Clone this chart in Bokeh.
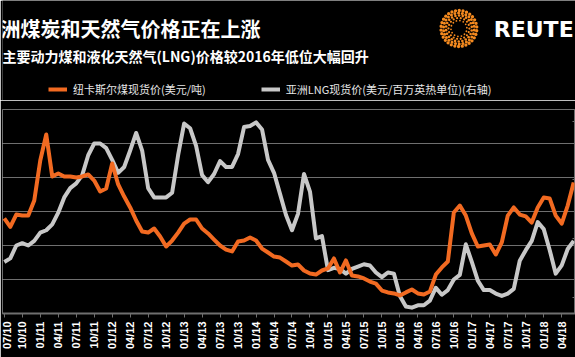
import math
from bokeh.plotting import figure
from bokeh.models import (Range1d, LinearAxis, FixedTicker, CustomJSTickFormatter,
                          Legend, LegendItem, Grid)
from bokeh.layouts import column
from bokeh.embed import file_html
from bokeh.resources import INLINE
from bokeh.core.properties import value
import numpy as np

# ---- data (monthly, Jul 2010 .. Jun 2018) ----
months = list(range(96))
coal_usd_t = [96, 91, 98.2, 97.6, 97.6, 106.5, 130, 145.3, 120.6, 122.4,
              120.6, 120.6, 120, 120.6, 121.8, 118.2, 111.8, 113.5, 128.2, 115.9,
              108.8, 102.4, 94.7, 88.2, 87.6, 90, 85.3, 79.4, 82.9, 87.6,
              92.9, 95.3, 95.3, 90, 87.1, 83.5, 80, 77.6, 76.5, 82.4,
              82.9, 84.7, 82.9, 78.2, 75.9, 73.5, 72.9, 70.6, 68.2, 68.8,
              65.3, 63.5, 62.9, 65.3, 66.5, 72.4, 64.1, 71.2, 62.4, 61.8,
              60.6, 58.8, 57.6, 53.5, 52.4, 51.8, 50.6, 52.4, 54.1, 51.8,
              51.2, 52.9, 62.9, 67.1, 70.6, 99.4, 103.5, 97.6, 87.1, 79.4,
              80, 80.6, 74.7, 81.8, 97.6, 102.4, 98.2, 97.1, 93.5, 102.4,
              108.2, 107.6, 97.6, 92.9, 103.5, 117.1]
lng_usd_mmbtu = [8.0, 8.3, 9.4, 9.6, 9.4, 9.8, 10.5, 10.7, 11.2, 12.2,
                 13.5, 14.3, 14.7, 15.4, 17.1, 18.1, 18.1, 17.7, 16.7, 15.6,
                 16.1, 17.5, 19.0, 17.5, 14.3, 13.5, 13.5, 13.5, 13.9, 17.1,
                 19.8, 19.4, 17.9, 15.4, 14.8, 15.5, 16.6, 16.1, 16.1, 17.2,
                 19.5, 19.6, 19.9, 19.3, 16.7, 15.6, 13.8, 12.0, 10.7, 12.1,
                 15.5, 14.0, 10.0, 10.2, 7.3, 7.5, 7.4, 7.0, 7.4, 7.6,
                 7.8, 7.7, 7.1, 6.7, 7.1, 7.0, 5.1, 4.2, 4.1, 4.3,
                 4.3, 4.7, 5.8, 5.2, 5.6, 6.5, 6.9, 9.5, 8.0, 6.4,
                 5.6, 5.6, 5.3, 5.1, 5.3, 5.7, 8.1, 9.0, 9.8, 11.4,
                 10.8, 9.0, 7.0, 7.7, 9.1, 9.8]
tick_pos = list(range(0, 96, 3))
tick_labels = ["07/10", "10/10", "01/11", "04/11", "07/11", "10/11", "01/12", "04/12",
               "07/12", "10/12", "01/13", "04/13", "07/13", "10/13", "01/14", "04/14",
               "07/14", "10/14", "01/15", "04/15", "07/15", "10/15", "01/16", "04/16",
               "07/16", "10/16", "01/17", "04/17", "07/17", "10/17", "01/18", "04/18"]
left_ticks = [40, 60, 80, 100, 120, 140, 160]
right_ticks = [5, 10, 15, 20]

title = "洲煤炭和天然气价格正在上涨"
subtitle = "主要动力煤和液化天然气(LNG)价格较2016年低位大幅回升"
coal_label = "纽卡斯尔煤现货价(美元/吨)"
lng_label = "亚洲LNG现货价(美元/百万英热单位)(右轴)"

ORANGE = "#f26a21"
GREY = "#c8c8c8"
GRID = "#6f6f6f"
CJK = "Noto Sans CJK SC"

# ---- header (title, subtitle, logo, legend) ----
HDR_H = 100
hdr = figure(width=575, height=HDR_H, x_range=Range1d(0, 575), y_range=Range1d(HDR_H, 0),
             output_backend="svg", toolbar_location=None, x_axis_type=None, y_axis_type=None,
             background_fill_color="black", border_fill_color="black",
             min_border=0, outline_line_color=None)
hdr.grid.visible = False
hdr.text(x=[-2], y=[28], text=[title], text_font=value(CJK), text_font_style="bold",
         text_font_size="20px", text_color="white", text_baseline="middle", text_align="left")
hdr.text(x=[0], y=[55], text=[subtitle], text_font=value(CJK), text_font_style="bold",
         text_font_size="14px", text_color="white", text_baseline="middle", text_align="left")

# logo dots
lx, ly, ls = [], [], []
for r, n, s in [(8, 14, 1.8), (10.5, 18, 2.2), (13, 22, 2.6), (15.5, 26, 3.0), (18, 30, 3.3)]:
    a = np.linspace(0, 2 * np.pi, n, endpoint=False) + r * 0.1
    lx += list(458 + r * np.cos(a))
    ly += list(28 + r * np.sin(a))
    ls += [s] * n
hdr.scatter(x=lx, y=ly, size=ls, color="#f58a1f", line_color=None)
hdr.text(x=[493], y=[29], text=["REUTE"], text_font=value("DejaVu Sans"), text_font_style="bold",
         text_font_size="22px", text_color="white", text_baseline="middle", text_align="left")

# legend key renderers (same styling as the series lines, drawn off-canvas)
k_coal = hdr.line(x=[months[0] - 60, months[1] - 60], y=[-50, -50], color=ORANGE, line_width=4)
k_lng = hdr.line(x=[months[0] - 60, months[1] - 60], y=[-50, -50], color=GREY, line_width=4)
legend = Legend(items=[LegendItem(label=coal_label, renderers=[k_coal]),
                       LegendItem(label=lng_label, renderers=[k_lng])],
                orientation="horizontal", location=(46, 3),
                background_fill_alpha=0, border_line_color=None,
                label_text_color="#e6e6e6", label_text_font=CJK, label_text_font_size="11px",
                glyph_width=19, glyph_height=12, label_standoff=6, spacing=55,
                padding=0, margin=0, label_height=14)
hdr.add_layout(legend, "center")

# ---- main chart ----
p = figure(width=575, height=357 - HDR_H, x_range=Range1d(-0.3, 95.3), y_range=Range1d(40, 160),
           output_backend="svg", toolbar_location=None, y_axis_location=None,
           background_fill_color="black", border_fill_color="black",
           min_border_left=2, min_border_right=0, min_border_top=9, min_border_bottom=44,
           outline_line_color=GRID)
p.extra_y_ranges = {"lng": Range1d(3.6, 21)}
p.xgrid.visible = False
p.add_layout(Grid(dimension=1, ticker=FixedTicker(ticks=left_ticks),
                  grid_line_color=GRID, grid_line_width=1))

r_lng = p.line(months, lng_usd_mmbtu, y_range_name="lng", color=GREY, line_width=4,
               line_join="round")
r_coal = p.line(months, coal_usd_t, color=ORANGE, line_width=4, line_join="round")

ax = p.xaxis[0]
ax.ticker = FixedTicker(ticks=tick_pos)
ax.major_label_overrides = {pos: lab for pos, lab in zip(tick_pos, tick_labels)}
ax.major_label_orientation = math.pi / 2
ax.major_label_text_color = "white"
ax.major_label_text_font = "Liberation Sans"
ax.major_label_text_font_style = "bold"
ax.major_label_text_font_size = "11px"
ax.major_label_standoff = 4
ax.axis_line_color = GRID
ax.axis_line_width = 2
ax.major_tick_line_color = GRID
ax.major_tick_out = 4
ax.major_tick_in = 0
ax.minor_tick_line_color = None

rax = LinearAxis(y_range_name="lng", ticker=FixedTicker(ticks=right_ticks),
                 formatter=CustomJSTickFormatter(code="return ''"),
                 axis_line_color=GRID, axis_line_width=2, major_tick_line_color=GRID,
                 major_tick_in=3, major_tick_out=0, minor_tick_line_color=None,
                 major_label_standoff=0)
p.add_layout(rax, "right")

layout = column(hdr, p, spacing=0)
open("out.html", "w").write(file_html(layout, INLINE))
